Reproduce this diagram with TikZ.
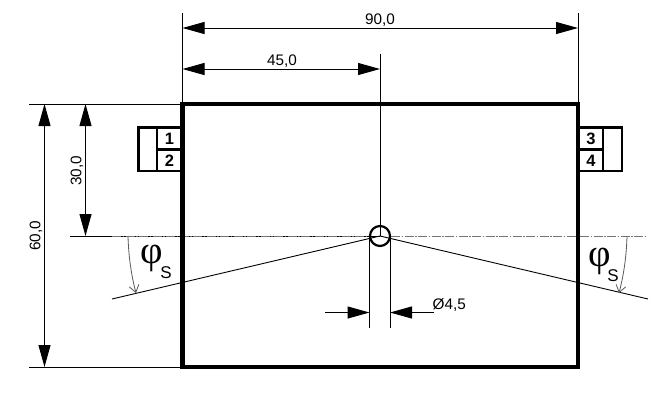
\documentclass[tikz,border=0pt]{standalone}
\usepackage{fontspec}
\setmainfont{Liberation Sans}
\newfontfamily\phifont{Liberation Serif}
\usetikzlibrary{arrows.meta}
\tikzset{
  x=1pt,y=-1pt,
  thinline/.style={line width=1pt,black},
  dimline/.style={thinline,{Triangle[length=22pt,width=12pt]}-{Triangle[length=22pt,width=12pt]}},
  dimhead/.style={thinline,-{Triangle[length=22pt,width=12pt]}},
  body/.style={line width=4.6pt,black,line join=miter},
  conn/.style={line width=2.4pt,black},
  centerline/.style={line width=1pt,black!55,dash pattern=on 9pt off 1.5pt on 1.5pt off 1.5pt},
  anglearc/.style={line width=0.8pt,black!65,-{Straight Barb[length=7pt,width=10pt,black!65]}},
  dimlabel/.style={font=\fontsize{15.3pt}{17pt}\selectfont,inner sep=0pt},
  pin/.style={font=\fontsize{16.5pt}{18pt}\selectfont\bfseries,inner sep=0pt},
  philabel/.style={font=\fontsize{39pt}{42pt}\selectfont\phifont,inner sep=0pt},
  sublabel/.style={font=\fontsize{17pt}{19pt}\selectfont,inner sep=0pt},
}
\begin{document}
\begin{tikzpicture}
\useasboundingbox (0,0) rectangle (672,400);
\fill[white] (0,0) rectangle (672,400);
% key points
\coordinate (c) at (380,236);
\coordinate (tl) at (182.5,104);
\coordinate (tr) at (578,104);
\coordinate (bl) at (182.5,367);
\coordinate (br) at (578,367);
% extension lines
\draw[thinline] (182.5,13) -- (tl);
\draw[thinline] (578,13) -- (tr);
\draw[thinline] (380,54) -- (c);
\draw[thinline] (29,104) -- (tl);
\draw[thinline] (29,367) -- (bl);
\draw[thinline] (70,236) -- (c);
% center line
\draw[centerline] (112,236) -- (370,236);
\draw[centerline] (391,236) -- (647,236);
% slanted lines
\coordinate (sl) at (112,299);
\coordinate (sr) at (648,299);
\draw[thinline,line width=0.9pt] (c) -- (sl);
\draw[thinline,line width=0.9pt] (c) -- (sr);
% angle arcs
\coordinate (al) at (128,236);
\coordinate (ale) at (136,293);
\coordinate (ar) at (627,236);
\coordinate (are) at (619,293);
\draw[anglearc] (al) .. controls (128.5,255) and (131,274) .. (ale);
\draw[anglearc] (ar) .. controls (626.5,255) and (624,274) .. (are);
% hole diameter
\draw[thinline] (369.5,236) -- (369.5,328);
\draw[thinline] (390,236) -- (390,328);
\coordinate (dl) at (369.5,312.5);
\coordinate (dr) at (390,312.5);
\draw[dimhead] (325,312.5) -- (dl);
\draw[dimhead] (434,312.5) -- (dr);
\draw[line width=2.2pt,black] (c) circle[radius=10];
% dimensions
\draw[dimline] (182.5,28) -- (578,28);
\draw[dimline] (182.5,69) -- (380,69);
\draw[dimline] (44.5,104) -- (44.5,367);
\draw[dimline] (85.5,104) -- (85.5,236);
% body
\draw[body] (tl) rectangle (br);
% connectors
\draw[conn] (182,127.5) -- (138.5,127.5) -- (138.5,171) -- (182,171);
\draw[conn] (157,127.5) -- (157,171);
\draw[conn] (157,149.5) -- (182,149.5);
\draw[conn] (578,127.5) -- (622,127.5) -- (622,171) -- (578,171);
\draw[conn] (603,127.5) -- (603,171);
\draw[conn] (578,149.5) -- (603,149.5);
% labels
\node[pin] (p1) at (169.5,138.5) {1};
\node[pin] (p2) at (169.5,160.5) {2};
\node[pin] (p3) at (591,138.5) {3};
\node[pin] (p4) at (591,160.5) {4};
\node[dimlabel] (d90) at (380,20.5) {90,0};
\node[dimlabel] (d45) at (282,61) {45,0};
\node[dimlabel,rotate=90] (d60) at (36,236) {60,0};
\node[dimlabel,rotate=90] (d30) at (77,171) {30,0};
\node[dimlabel,anchor=west] (dh) at (432.5,305) {Ø4,5};
\node[philabel] (pl) at (151.5,258) {φ};
\node[sublabel] (sl1) at (166,273) {S};
\node[philabel] (pr) at (599.5,261) {φ};
\node[sublabel] (sr1) at (613,276) {S};
\end{tikzpicture}
\end{document}
